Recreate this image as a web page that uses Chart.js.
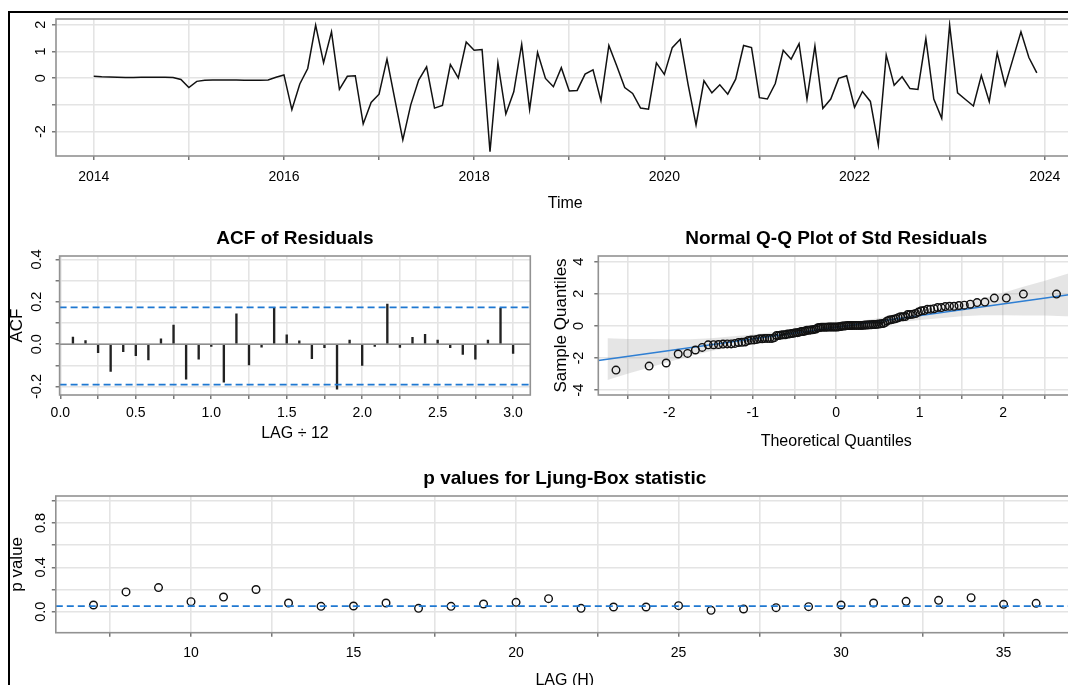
<!DOCTYPE html>
<html>
<head>
<meta charset="utf-8">
<title>sarima residual diagnostics</title>
<script src="https://cdn.jsdelivr.net/npm/chart.js@4.4.1/dist/chart.umd.min.js"></script>
<style>
    html, body { margin: 0; padding: 0; background: #fff; width: 1068px; height: 685px; overflow: hidden; }
    canvas { position: absolute; left: 0; top: 0; }
    #frame { position: absolute; left: 8px; top: 11px; width: 1100px; height: 700px;
             border-left: 2px solid #000; border-top: 2px solid #000; }
</style>
</head>
<body>
<div id="frame"></div>
<canvas id="resid" width="1090" height="700"></canvas>
<canvas id="acf" width="1090" height="700"></canvas>
<canvas id="qq" width="1090" height="700"></canvas>
<canvas id="lb" width="1090" height="700"></canvas>
<script>
// ---- standardized residuals, monthly from Jan 2014 ----
const residStart = 2014;
const residFreq = 12;
const residuals = [
    0.07, 0.05, 0.04, 0.03, 0.02, 0.02, 0.03, 0.03, 0.03, 0.03, 0.02, -0.05,
    -0.35, -0.12, -0.08, -0.07, -0.07, -0.07, -0.07, -0.08, -0.08, -0.08, -0.07, 0.03,
    0.12, -1.18, -0.22, 0.36, 1.98, 0.58, 1.73, -0.42, 0.07, 0.09, -1.71, -0.91,
    -0.60, 0.71, -0.80, -2.31, -1.00, -0.07, 0.42, -1.12, -1.02, 0.51, 0.01, 1.35,
    1.04, 1.07, -2.75, 0.57, -1.34, -0.51, 1.27, -1.17, 0.96, -0.01, -0.32, 0.39,
    -0.48, -0.46, 0.15, 0.31, -0.84, 1.22, 0.45, -0.35, -0.57, -1.12, -1.16, 0.57,
    0.14, 1.14, 1.45, -0.24, -1.75, -0.10, -0.55, -0.25, -0.60, -0.04, 1.22, 1.14,
    -0.73, -0.78, -0.20, 1.04, 0.71, 1.29, -0.78, 1.20, -1.13, -0.78, -0.01, 0.09,
    -1.09, -0.50, -0.87, -2.50, 0.86, -0.27, 0.05, -0.39, -0.42, 1.48, -0.78, -1.50,
    1.98, -0.55, -0.80, -1.04, 0.10, -0.88, 0.94, -0.27, 0.73, 1.73, 0.77, 0.20
];
const residXTicks = [2014, 2015, 2016, 2017, 2018, 2019, 2020, 2021, 2022, 2023, 2024];
const residXLabels = ['2014', '', '2016', '', '2018', '', '2020', '', '2022', '', '2024'];
const residYTicks = [-2, -1, 0, 1, 2];
const residYLabels = ['-2', '', '0', '1', '2'];

// ---- ACF of residuals ----
const acfLags = [1, 2, 3, 4, 5, 6, 7, 8, 9, 10, 11, 12, 13, 14, 15, 16, 17, 18,
                 19, 20, 21, 22, 23, 24, 25, 26, 27, 28, 29, 30, 31, 32, 33, 34, 35, 36];
const acfValues = [0.033, 0.017, -0.040, -0.129, -0.035, -0.054, -0.075, 0.025, 0.090, -0.165, -0.071, -0.011,
                   -0.179, 0.143, -0.098, -0.014, 0.173, 0.044, 0.016, -0.068, -0.017, -0.213, 0.019, -0.100,
                   -0.011, 0.189, -0.016, 0.032, 0.046, 0.019, -0.017, -0.049, -0.071, 0.019, 0.170, -0.044];
const acfBounds = [0.174, -0.191];
const acfXTicks = [0, 0.25, 0.5, 0.75, 1, 1.25, 1.5, 1.75, 2, 2.25, 2.5, 2.75, 3];
const acfXLabels = ['0.0', '', '0.5', '', '1.0', '', '1.5', '', '2.0', '', '2.5', '', '3.0'];
const acfYTicks = [-0.2, -0.1, 0, 0.1, 0.2, 0.3, 0.4];
const acfYLabels = ['-0.2', '', '0.0', '', '0.2', '', '0.4'];

// ---- normal Q-Q plot ----
const qqLine = { intercept: -0.08, slope: 0.725 };
const qqBandX = [-2.74, -2.5, -2.25, -2, -1.75, -1.5, -1, -0.5, 0, 0.5, 1, 1.5, 1.75, 2, 2.25, 2.5, 2.74, 2.85];
const qqBandHalf = [1.30, 1.08, 0.90, 0.70, 0.52, 0.40, 0.27, 0.20, 0.17, 0.20, 0.27, 0.40, 0.52, 0.70, 0.90, 1.08, 1.30, 1.38];
const qqXTicks = [-2.5, -2, -1.5, -1, -0.5, 0, 0.5, 1, 1.5, 2, 2.5];
const qqXLabels = ['', '-2', '', '-1', '', '0', '', '1', '', '2', ''];
const qqYTicks = [-4, -2, 0, 2, 4];
const qqYLabels = ['-4', '-2', '0', '2', '4'];

// ---- Ljung-Box p values ----
const lbLags = [7, 8, 9, 10, 11, 12, 13, 14, 15, 16, 17, 18, 19, 20, 21,
                22, 23, 24, 25, 26, 27, 28, 29, 30, 31, 32, 33, 34, 35, 36];
const lbPValues = [0.060, 0.178, 0.217, 0.090, 0.132, 0.200, 0.078, 0.048, 0.051, 0.078, 0.030, 0.048, 0.069, 0.084, 0.117,
                   0.030, 0.042, 0.042, 0.054, 0.012, 0.024, 0.036, 0.045, 0.060, 0.078, 0.093, 0.102, 0.126, 0.066, 0.075];
const lbCutoff = 0.05;
const lbXTicks = [7.5, 10, 12.5, 15, 17.5, 20, 22.5, 25, 27.5, 30, 32.5, 35];
const lbXLabels = ['', '10', '', '15', '', '20', '', '25', '', '30', '', '35'];
const lbYTicks = [0, 0.2, 0.4, 0.6, 0.8, 1.0];
const lbYLabels = ['0.0', '', '0.4', '', '0.8', ''];


const FONT = '"Liberation Sans", Arial, Helvetica, sans-serif';
const GRID = '#e4e4e4';
const BLUE = '#1f78d1';

Chart.defaults.font.family = FONT;
Chart.defaults.color = '#000';

// inverse normal cdf (Acklam), for the theoretical quantiles
function qnorm(p) {
    let a = [-3.969683028665376e+01, 2.209460984245205e+02, -2.759285104469687e+02, 1.383577518672690e+02, -3.066479806614716e+01, 2.506628277459239e+00];
    let b = [-5.447609879822406e+01, 1.615858368580409e+02, -1.556989798598866e+02, 6.680131188771972e+01, -1.328068155288572e+01];
    let c = [-7.784894002430293e-03, -3.223964580411365e-01, -2.400758277161838e+00, -2.549732539343734e+00, 4.374664141464968e+00, 2.938163982698783e+00];
    let d = [7.784695709041462e-03, 3.224671290700398e-01, 2.445134137142996e+00, 3.754408661907416e+00];
    let q, r;
    if (p < 0.02425) {
        q = Math.sqrt(-2 * Math.log(p));
        return (((((c[0]*q+c[1])*q+c[2])*q+c[3])*q+c[4])*q+c[5]) / ((((d[0]*q+d[1])*q+d[2])*q+d[3])*q+1);
    }
    if (p > 1 - 0.02425) {
        q = Math.sqrt(-2 * Math.log(1 - p));
        return -(((((c[0]*q+c[1])*q+c[2])*q+c[3])*q+c[4])*q+c[5]) / ((((d[0]*q+d[1])*q+d[2])*q+d[3])*q+1);
    }
    q = p - 0.5;
    r = q * q;
    return (((((a[0]*r+a[1])*r+a[2])*r+a[3])*r+a[4])*r+a[5])*q / (((((b[0]*r+b[1])*r+b[2])*r+b[3])*r+b[4])*r+1);
}

// box, title, rotated y labels and reference lines, R style
const rPanel = {
    id: 'rPanel',
    afterDatasetsDraw(chart, args, opts) {
        let { ctx, chartArea: a } = chart;
        let y = chart.scales.y;
        (opts.hlines || []).forEach(h => {
            let py = y.getPixelForValue(h.value);
            ctx.save();
            ctx.beginPath();
            ctx.rect(a.left, a.top, a.right - a.left, a.bottom - a.top);
            ctx.clip();
            ctx.strokeStyle = h.color;
            ctx.lineWidth = h.width;
            ctx.setLineDash(h.dash || []);
            ctx.beginPath();
            ctx.moveTo(a.left, py);
            ctx.lineTo(a.right, py);
            ctx.stroke();
            ctx.restore();
        });
    },
    afterDraw(chart, args, opts) {
        let { ctx, chartArea: a } = chart;
        let y = chart.scales.y;
        ctx.save();
        ctx.strokeStyle = '#929292';
        ctx.lineWidth = 1.6;
        ctx.strokeRect(a.left, a.top, a.right - a.left, a.bottom - a.top);
        ctx.fillStyle = '#000';
        ctx.textAlign = 'center';
        ctx.textBaseline = 'middle';
        if (opts.title) {
            ctx.font = 'bold 19px ' + FONT;
            ctx.fillText(opts.title, (a.left + a.right) / 2, opts.titleY);
        }
        ctx.font = '14.5px ' + FONT;
        opts.yTicks.forEach((v, i) => {
            if (!opts.yLabels[i]) return;
            ctx.save();
            ctx.translate(opts.yLabelX, y.getPixelForValue(v));
            ctx.rotate(-Math.PI / 2);
            ctx.fillText(opts.yLabels[i], 0, 1);
            ctx.restore();
        });
        ctx.restore();
    }
};

function xScale(min, max, ticks, labels, size, pad, title) {
    return {
        type: 'linear', position: 'bottom', min: min, max: max, offset: false,
        afterBuildTicks: s => { s.ticks = ticks.map(v => ({ value: v })); },
        afterFit: s => { s.height = size; },
        grid: { color: GRID, lineWidth: 1.6, tickColor: '#555', tickLength: 4, tickWidth: 1.2, offset: false },
        border: { display: false },
        ticks: {
            autoSkip: false, maxRotation: 0, minRotation: 0, padding: pad, color: '#000',
            font: { size: 14, lineHeight: 1 },
            callback: (v, i) => labels[i]
        },
        title: { display: !!title, text: title, padding: 0, color: '#000', font: { size: 16, lineHeight: 1 } }
    };
}

function yScale(min, max, ticks, size, title) {
    return {
        type: 'linear', position: 'left', min: min, max: max,
        afterBuildTicks: s => { s.ticks = ticks.map(v => ({ value: v })); },
        afterFit: s => { s.width = size; },
        grid: { color: GRID, lineWidth: 1.6, tickColor: '#555', tickLength: 4, tickWidth: 1.2 },
        border: { display: false },
        ticks: { display: false },
        title: { display: !!title, text: title, padding: 0, color: '#000', font: { size: 17, lineHeight: 1 } }
    };
}

let common = {
    responsive: false,
    animation: false,
    events: [],
    plugins: { legend: { display: false }, tooltip: { enabled: false } }
};

// top: residual series
new Chart(document.getElementById('resid'), {
    type: 'line',
    data: {
        datasets: [{
            data: residuals.map((v, i) => ({ x: residStart + i / residFreq, y: v })),
            borderColor: '#111',
            borderWidth: 1.5,
            pointRadius: 0,
            tension: 0
        }]
    },
    options: Object.assign({}, common, {
        layout: { padding: { left: 6, top: 19, right: 15.5, bottom: 488 } },
        scales: {
            x: xScale(2013.603, 2024.313, residXTicks, residXLabels, 56, 9.7, 'Time'),
            y: yScale(-2.91, 2.21, residYTicks, 50, '')
        },
        plugins: Object.assign({}, common.plugins, {
            rPanel: { yTicks: residYTicks, yLabels: residYLabels, yLabelX: 40 }
        })
    }),
    plugins: [rPanel]
});

// middle left: ACF
new Chart(document.getElementById('acf'), {
    type: 'bar',
    data: {
        datasets: [{
            data: acfLags.map((l, i) => ({ x: l / 12, y: acfValues[i] })),
            backgroundColor: '#222',
            barThickness: 1.7
        }]
    },
    options: Object.assign({}, common, {
        layout: { padding: { left: 8.7, top: 256, right: 559.7, bottom: 258.7 } },
        scales: {
            x: xScale(-0.005, 3.114, acfXTicks, acfXLabels, 46.3, 6.7, 'LAG \u00f7 12'),
            y: yScale(-0.24, 0.416, acfYTicks, 50.9, 'ACF')
        },
        plugins: Object.assign({}, common.plugins, {
            rPanel: {
                title: 'ACF of Residuals', titleY: 238.3,
                yTicks: acfYTicks, yLabels: acfYLabels, yLabelX: 35.5,
                hlines: [
                    { value: 0, color: '#8c8c8c', width: 1.5 },
                    { value: acfBounds[0], color: BLUE, width: 1.8, dash: [7, 4] },
                    { value: acfBounds[1], color: BLUE, width: 1.8, dash: [7, 4] }
                ]
            }
        })
    }),
    plugins: [rPanel]
});

// middle right: normal Q-Q plot
let sorted = residuals.slice().sort((a, b) => a - b);
let n = sorted.length;
let qqPoints = sorted.map((v, i) => ({ x: qnorm((i + 0.5) / n), y: v }));
let fitAt = x => qqLine.intercept + qqLine.slope * x;

new Chart(document.getElementById('qq'), {
    type: 'scatter',
    data: {
        datasets: [
            {
                data: qqPoints,
                pointStyle: 'circle',
                pointRadius: 3.8,
                borderColor: '#111',
                borderWidth: 1.4,
                backgroundColor: 'rgba(0,0,0,0)'
            },
            {
                type: 'line',
                data: [{ x: -2.85, y: fitAt(-2.85) }, { x: 2.85, y: fitAt(2.85) }],
                borderColor: '#2f7fd3',
                borderWidth: 1.5,
                pointRadius: 0
            },
            {
                type: 'line',
                data: qqBandX.map((x, i) => ({ x: x, y: fitAt(x) + qqBandHalf[i] })),
                borderWidth: 0,
                pointRadius: 0,
                fill: '+1',
                backgroundColor: 'rgba(170,170,170,0.30)'
            },
            {
                type: 'line',
                data: qqBandX.map((x, i) => ({ x: x, y: fitAt(x) - qqBandHalf[i] })),
                borderWidth: 0,
                pointRadius: 0,
                fill: false
            }
        ]
    },
    options: Object.assign({}, common, {
        layout: { padding: { left: 552.5, top: 256, right: 15.8, bottom: 250.3 } },
        scales: {
            x: xScale(-2.85, 2.85, qqXTicks, qqXLabels, 54.7, 6.7, 'Theoretical Quantiles'),
            y: yScale(-4.3, 4.35, qqYTicks, 45.8, 'Sample Quantiles')
        },
        plugins: Object.assign({}, common.plugins, {
            rPanel: {
                title: 'Normal Q-Q Plot of Std Residuals', titleY: 238.3,
                yTicks: qqYTicks, yLabels: qqYLabels, yLabelX: 578
            }
        })
    }),
    plugins: [rPanel]
});

// bottom: Ljung-Box p values
new Chart(document.getElementById('lb'), {
    type: 'scatter',
    data: {
        datasets: [{
            data: lbLags.map((l, i) => ({ x: l, y: lbPValues[i] })),
            pointStyle: 'circle',
            pointRadius: 3.8,
            borderColor: '#111',
            borderWidth: 1.4,
            backgroundColor: 'rgba(0,0,0,0)'
        }]
    },
    options: Object.assign({}, common, {
        layout: { padding: { left: 8.7, top: 496, right: 16.2, bottom: 11 } },
        scales: {
            x: xScale(5.84, 37.16, lbXTicks, lbXLabels, 56.3, 9, 'LAG (H)'),
            y: yScale(-0.19, 1.044, lbYTicks, 47.1, 'p value')
        },
        plugins: Object.assign({}, common.plugins, {
            rPanel: {
                title: 'p values for Ljung-Box statistic', titleY: 478.3,
                yTicks: lbYTicks, yLabels: lbYLabels, yLabelX: 40,
                hlines: [{ value: lbCutoff, color: BLUE, width: 1.8, dash: [7, 4] }]
            }
        })
    }),
    plugins: [rPanel]
});
</script>
</body>
</html>
